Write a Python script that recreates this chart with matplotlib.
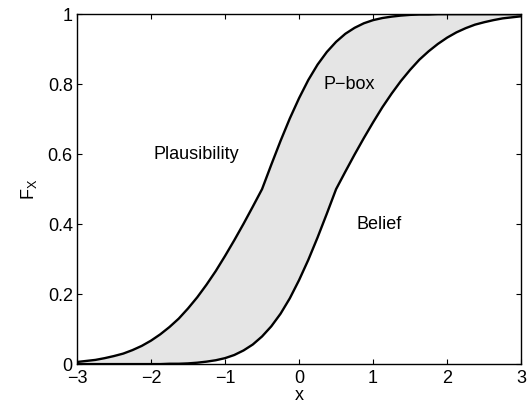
import numpy as np
import matplotlib
matplotlib.use('Agg')
import matplotlib.pyplot as plt

plt.rcParams['font.family'] = ['Liberation Sans', 'DejaVu Sans']
plt.rcParams['mathtext.fontset'] = 'custom'
plt.rcParams['mathtext.rm'] = 'Liberation Sans'

# x grid, step 0.125 from -3 to 3
x = np.linspace(-3, 3, 49)

# upper bound of the p-box (plausibility)
upper = [0.006, 0.009, 0.012, 0.017, 0.023, 0.030, 0.040, 0.052, 0.067, 0.085,
         0.106, 0.130, 0.159, 0.191, 0.227, 0.266, 0.309, 0.354, 0.401, 0.450,
         0.500, 0.570, 0.638, 0.702, 0.760, 0.812, 0.856, 0.892, 0.921, 0.944,
         0.961, 0.974, 0.983, 0.989, 0.993, 0.996, 0.998, 0.999, 0.999, 1.000,
         1.000, 1.000, 1.000, 1.000, 1.000, 1.000, 1.000, 1.000, 1.000]

# lower bound of the p-box (belief)
lower = [0.000, 0.000, 0.000, 0.000, 0.000, 0.000, 0.000, 0.000, 0.000, 0.000,
         0.001, 0.001, 0.002, 0.004, 0.007, 0.011, 0.017, 0.026, 0.039, 0.056,
         0.079, 0.108, 0.144, 0.188, 0.240, 0.298, 0.362, 0.430, 0.500, 0.550,
         0.599, 0.646, 0.691, 0.734, 0.773, 0.809, 0.841, 0.870, 0.894, 0.915,
         0.933, 0.948, 0.960, 0.970, 0.977, 0.983, 0.988, 0.991, 0.994]

fig = plt.figure(figsize=(5.27, 4.05), dpi=100)
ax = fig.add_axes([0.146, 0.101, 0.843, 0.864])

ax.fill_between(x, lower, upper, color='#e5e5e5', linewidth=0)
ax.plot(x, upper, color='black', linewidth=1.7)
ax.plot(x, lower, color='black', linewidth=1.7)

ax.text(-1.39, 0.60, 'Plausibility', fontsize=13, ha='center', va='center')
ax.text(0.68, 0.80, 'P\u2212box', fontsize=13, ha='center', va='center')
ax.text(1.08, 0.40, 'Belief', fontsize=13, ha='center', va='center')

ax.set_xlim(-3, 3)
ax.set_ylim(0, 1)
ax.set_xticks([-3, -2, -1, 0, 1, 2, 3])
ax.set_yticks([0, 0.2, 0.4, 0.6, 0.8, 1])
ax.set_yticklabels(['0', '0.2', '0.4', '0.6', '0.8', '1'])
ax.tick_params(direction='in', top=True, right=True, length=3.5, labelsize=13)
ax.tick_params(axis='x', pad=4)
ax.tick_params(axis='y', pad=3)
for s in ax.spines.values():
    s.set_linewidth(1.0)

ax.set_xlabel('x', fontsize=13, labelpad=0)
ax.set_ylabel(r'$\mathrm{F_X}$', fontsize=13, labelpad=6)

fig.savefig('out.png', dpi=100)
